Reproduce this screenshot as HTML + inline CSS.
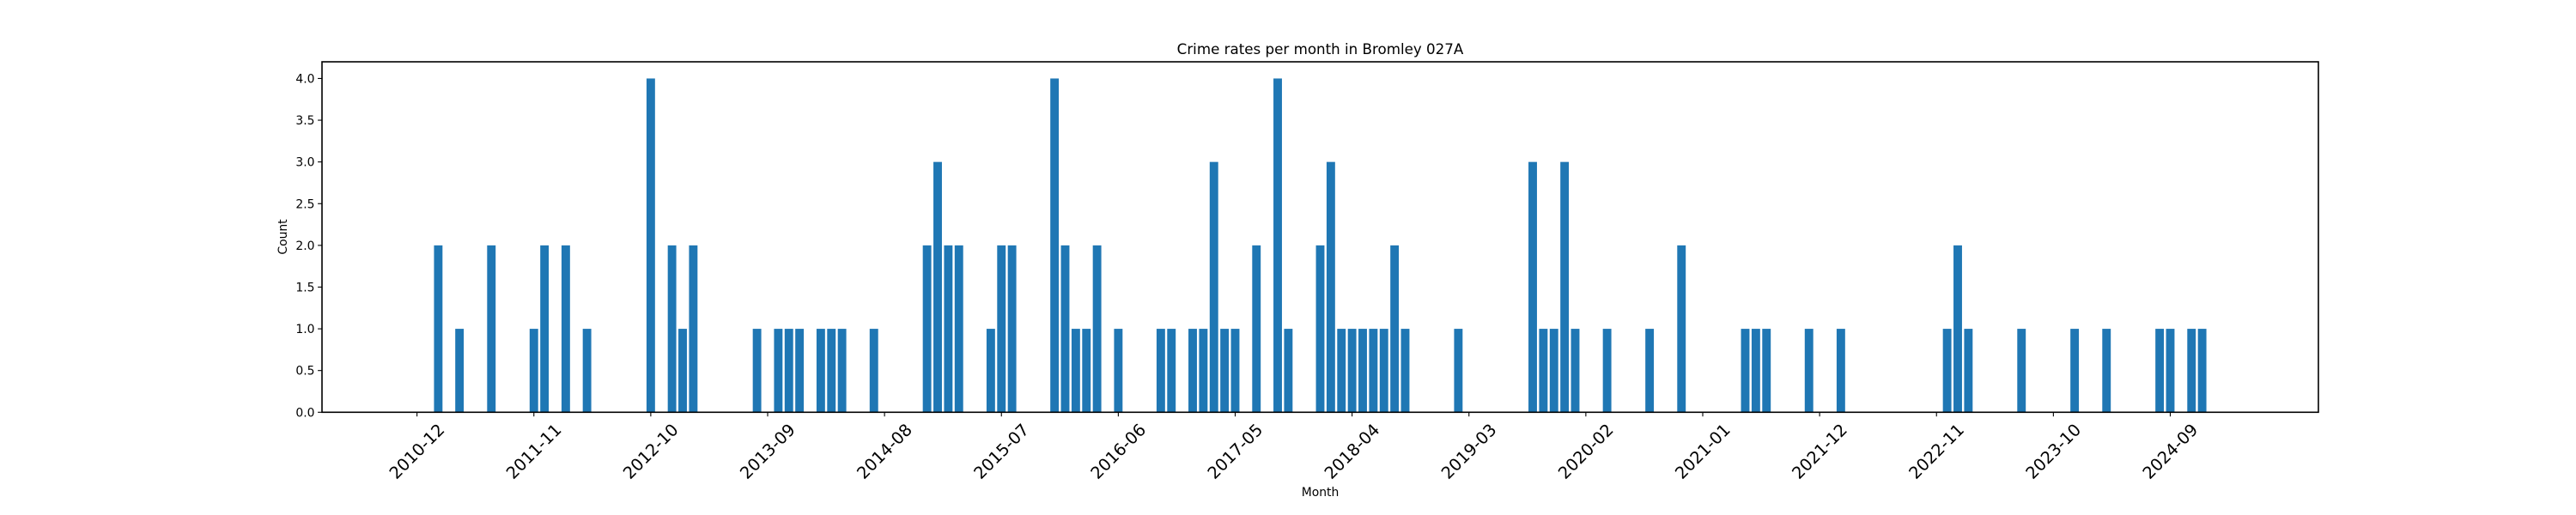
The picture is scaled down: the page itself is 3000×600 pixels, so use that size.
<!DOCTYPE html>
<html><head><meta charset="utf-8"><style>
html,body{margin:0;padding:0;background:#fff;}
svg{display:block;font-family:"DejaVu Sans","Liberation Sans",sans-serif;}
</style></head><body>
<svg id="chart" width="3000" height="600" viewBox="0 0 3000 600" xmlns="http://www.w3.org/2000/svg">
<rect width="3000" height="600" fill="#fff"/>
<text x="1537.5" y="63" font-size="16.7" text-anchor="middle" fill="#000">Crime rates per month in Bromley 027A</text>
<text x="1537.5" y="578" font-size="13.9" text-anchor="middle" fill="#000">Month</text>
<text x="0" y="0" transform="translate(334,276) rotate(-90)" font-size="13.9" text-anchor="middle" fill="#000">Count</text>
<g id="bars"></g>
<g id="xticks"></g>
<g id="yticks"></g>
<rect x="375" y="72" width="2325" height="408.3" fill="none" stroke="#000" stroke-width="1.6"/>
</svg>
<script>
// month indices counted from 2010-12 (index 0), 171 categories
const barMonthIndex = [2,4,7,11,12,14,16,22,24,25,26,32,34,35,36,38,39,40,43,48,49,50,51,54,55,56,60,61,62,63,64,66,70,71,73,74,75,76,77,79,81,82,85,86,87,88,89,90,91,92,93,98,105,106,107,108,109,112,116,119,125,126,127,131,134,144,145,146,151,156,159,164,165,167,168];
const barCounts = [2,1,2,1,2,2,1,4,2,1,2,1,1,1,1,1,1,1,1,2,3,2,2,1,2,2,4,2,1,1,2,1,1,1,1,1,3,1,1,2,4,1,2,3,1,1,1,1,1,2,1,1,3,1,1,3,1,1,1,2,1,1,1,1,1,1,2,1,1,1,1,1,1,1,1];
const tickLabels = ["2010-12","2011-11","2012-10","2013-09","2014-08","2015-07","2016-06","2017-05","2018-04","2019-03","2020-02","2021-01","2021-12","2022-11","2023-10","2024-09"];
const yTicks = [0,0.5,1,1.5,2,2.5,3,3.5,4];
const nCats = 171;

const NS = "http://www.w3.org/2000/svg";
const L = 375, R = 2700, T = 72, B = 480.3;
const m = 0.05 * (nCats - 1 + 0.8);
const xmin = -0.4 - m, xmax = nCats - 1 + 0.4 + m;
const ymax = 4.2;
function xs(i){ return L + (i - xmin) / (xmax - xmin) * (R - L); }
function ys(v){ return B - v / ymax * (B - T); }
const bw = 0.8 * (R - L) / (xmax - xmin);

const gb = document.getElementById('bars');
barMonthIndex.forEach((idx, k) => {
  const r = document.createElementNS(NS, 'rect');
  
  
  r.setAttribute('x', xs(idx) - bw / 2);
  r.setAttribute('y', ys(barCounts[k]));
  r.setAttribute('width', bw);
  r.setAttribute('height', ys(0) - ys(barCounts[k]));
  r.setAttribute('fill', '#1f77b4');
  gb.appendChild(r);
});

const gx = document.getElementById('xticks');
tickLabels.forEach((lab, k) => {
  const x = xs(k * 11);
  const l = document.createElementNS(NS, 'line');
  
  
  l.setAttribute('x1', x); l.setAttribute('x2', x);
  l.setAttribute('y1', B); l.setAttribute('y2', B + 4.9);
  l.setAttribute('stroke', '#000'); l.setAttribute('stroke-width', '1.1');
  gx.appendChild(l);
  const t = document.createElementNS(NS, 'text');
  
  
  t.setAttribute('transform', 'translate(' + x + ',526) rotate(-45)');
  t.setAttribute('text-anchor', 'middle');
  t.setAttribute('dominant-baseline', 'central');
  t.setAttribute('font-size', '19.4');
  t.textContent = lab;
  gx.appendChild(t);
});

const gy = document.getElementById('yticks');
yTicks.forEach(v => {
  const y = ys(v);
  const l = document.createElementNS(NS, 'line');
  
  
  l.setAttribute('x1', L - 4.9); l.setAttribute('x2', L);
  l.setAttribute('y1', y); l.setAttribute('y2', y);
  l.setAttribute('stroke', '#000'); l.setAttribute('stroke-width', '1.1');
  gy.appendChild(l);
  const t = document.createElementNS(NS, 'text');
  
  
  t.setAttribute('x', L - 8.5);
  t.setAttribute('y', y + 5);
  t.setAttribute('text-anchor', 'end');
  t.setAttribute('font-size', '13.9');
  t.textContent = v.toFixed(1);
  gy.appendChild(t);
});
</script>
</body></html>
